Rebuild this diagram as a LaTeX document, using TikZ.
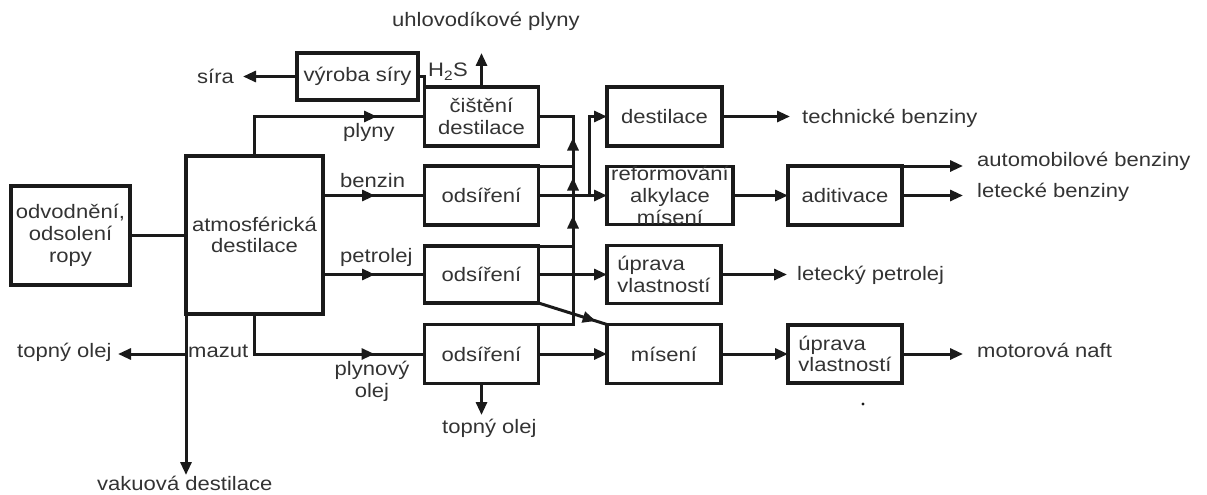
\documentclass[tikz,border=0pt]{standalone}
\usepackage{fontspec}
\setmainfont{Liberation Sans}[FakeStretch=1.13]
\usetikzlibrary{arrows.meta,decorations.markings}
\definecolor{ln}{HTML}{1A1A1A}
\definecolor{tx}{HTML}{333333}
\newcommand\fs{\fontsize{19.5}{21.8}\selectfont}
\tikzset{
  box/.style={draw=ln,line width=3.2pt,outer sep=0pt,inner sep=0pt,align=center,text=tx,font=\fs},
  lbox/.style={box,align=left},
  conn/.style={color=ln,line width=3pt},
  arr/.style={conn,-{Triangle[length=13pt,width=11pt]}},
  midarr/.style={postaction={decorate},decoration={markings,mark=at position #1 with {\arrow{Triangle[length=13pt,width=11pt]}}}},
  lbl/.style={inner sep=0pt,anchor=base west,text=tx,font=\fs},
}
\begin{document}
\begin{tikzpicture}[x=1pt,y=-1pt]
\useasboundingbox (0,0) rectangle (1207,495);
% boxes
\node[box,minimum width=119pt,minimum height=99pt] (odv) at (70.5,235.5) {odvodnění,\\odsolení\\ropy};
\node[box,minimum width=137pt,minimum height=158pt] (atm) at (254.5,235) {atmosférická\\destilace};
\node[box,minimum width=121pt,minimum height=47pt] (vyr) at (357.5,76.5) {výroba síry};
\node[box,minimum width=114pt,minimum height=59pt] (cis) at (481.5,116.5) {čištění\\destilace};
\node[box,minimum width=114pt,minimum height=59pt] (ods1) at (481.5,195.5) {odsíření};
\node[box,minimum width=114pt,minimum height=57pt] (ods2) at (481.5,274.5) {odsíření};
\node[box,minimum width=114pt,minimum height=59pt] (ods3) at (481.5,354) {odsíření};
\node[box,minimum width=115pt,minimum height=59pt] (dest) at (664.5,116.5) {destilace};
\node[box,minimum width=126pt,minimum height=58pt] (ref) at (670,195.5) {reformování\\alkylace\\mísení};
\node[box,minimum width=114pt,minimum height=59pt] (adit) at (845,195.5) {aditivace};
\node[lbox,minimum width=114pt,minimum height=58pt] (upr1) at (664,274.5) {úprava\\vlastností};
\node[box,minimum width=114pt,minimum height=59pt] (mis) at (664,354) {mísení};
\node[lbox,minimum width=114pt,minimum height=58pt] (upr2) at (845,354) {úprava\\vlastností};
% labels
\node[lbl] (uhl) at (392,27) {uhlovodíkové plyny};
\node[lbl] (sira) at (197,83) {síra};
\node[lbl] (h2s) at (428,77) {H\textsubscript{2}S};
\node[lbl] (plyny) at (343,137) {plyny};
\node[lbl] (benz) at (340,187) {benzin};
\node[lbl] (petr) at (340,262) {petrolej};
\node[inner sep=0pt,anchor=north,align=center,text=tx,font=\fs] (plol) at (372,361) {plynový\\olej};
\node[lbl] (top2) at (442,433) {topný olej};
\node[lbl] (top1) at (17,357) {topný olej};
\node[lbl] (maz) at (188,357) {mazut};
\node[lbl] (vak) at (97,490) {vakuová destilace};
\node[lbl] (tech) at (802,123) {technické benziny};
\node[lbl] (auto) at (977,166) {automobilové benziny};
\node[lbl] (let) at (977,197) {letecké benziny};
\node[lbl] (letp) at (797,280) {letecký petrolej};
\node[lbl] (naft) at (977,357) {motorová naft};
% coordinates
\coordinate (siraT) at (243,76.5);
\coordinate (uhlT) at (481.5,53);
\coordinate (g) at (573,116.5);
\coordinate (b) at (589,195.5);
\coordinate (techT) at (790,116.5);
\coordinate (letT) at (963,195.5);
\coordinate (letpT) at (787,274.5);
\coordinate (naftT) at (963,354);
\coordinate (topT) at (481.5,415);
\coordinate (mz) at (186,354);
\coordinate (top1T) at (118,354);
\coordinate (vakT) at (186,475);
% connectors
\draw[conn] (odv.east) -- (odv.east -| atm.west);
\draw[conn,midarr=162pt] (atm.north) |- (cis.west);
\draw[conn,midarr=52pt] (atm.east |- ods1.west) -- (ods1.west);
\draw[conn,midarr=52pt] (atm.east |- ods2.west) -- (ods2.west);
\draw[conn,midarr=160pt] (atm.south) |- (ods3.west);
\draw[arr] (mz) -- (top1T);
\draw[arr] (atm.south west) -- (vakT);
\draw[arr] (vyr.west) -- (siraT);
\draw[conn] (cis.north west) |- (vyr.east);
\draw[arr] (cis.north) -- (uhlT);
\draw[conn,postaction={decorate},decoration={markings,
  mark=at position 143.5pt with {\arrow{Triangle[length=13pt,width=11pt]}},
  mark=at position 181.5pt with {\arrow{Triangle[length=13pt,width=11pt]}},
  mark=at position 221.5pt with {\arrow{Triangle[length=13pt,width=11pt]}}}]
  (ods3.north east) -| (g) -- (cis.east);
\draw[conn] (ods1.north east) -- (ods1.north east -| g);
\draw[conn] (ods2.north east) -- (ods2.north east -| g);
\draw[arr] (ods1.east) -- (ref.west);
\draw[arr] (b) |- (dest.west);
\draw[arr] (dest.east) -- (techT);
\draw[arr] (ref.east) -- (adit.west);
\draw[arr] (adit.north east) -- (adit.north east -| letT);
\draw[arr] (adit.east) -- (letT);
\draw[arr] (ods2.east) -- (upr1.west);
\draw[arr] (upr1.east) -- (letpT);
\draw[conn,midarr=60pt] (ods2.south east) -- (mis.north west);
\draw[arr] (ods3.east) -- (mis.west);
\draw[arr] (mis.east) -- (upr2.west);
\draw[arr] (upr2.east) -- (naftT);
\draw[arr] (ods3.south) -- (topT);
\fill[ln] (863,404) circle (1.7pt);
\end{tikzpicture}
\end{document}
